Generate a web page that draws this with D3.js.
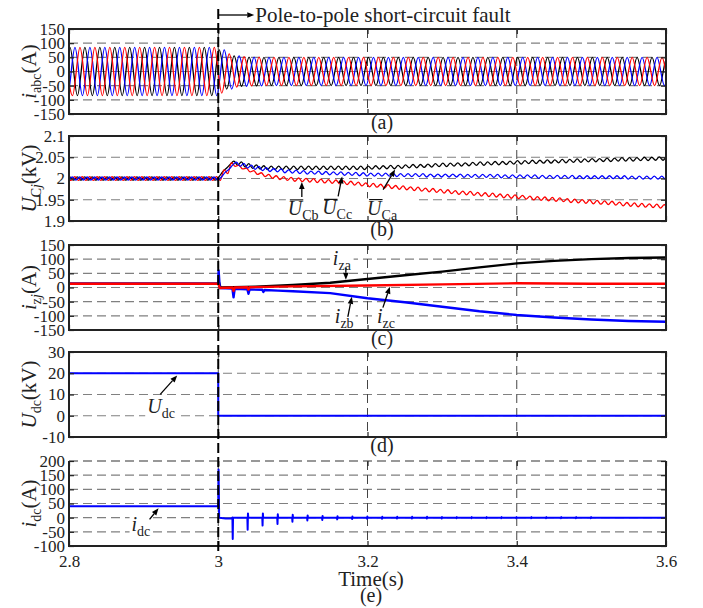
<!DOCTYPE html>
<html>
<head>
<meta charset="utf-8">
<script src="https://cdn.jsdelivr.net/npm/d3@7"></script>
<style>
  body { margin: 0; background: #fff; }
  svg { display: block; }
  text { font-family: "Liberation Serif", "Times New Roman", serif; fill: #222; }
</style>
</head>
<body>
<svg id="chart" width="703" height="608"></svg>
<script>
// ---------- time axis ----------
const timeDomain = [2.8, 3.6];
const timeTicks = [2.8, 3.0, 3.2, 3.4, 3.6];
const timeTickLabels = ["2.8", "3", "3.2", "3.4", "3.6"];
const faultTime = 3.0;

// ---------- (a) AC phase currents i_abc (A) ----------
// crest magnitude of every half cycle (0.01 s each, from 2.8 s)
const iabcHalfCycleAmp = [
  85, 85, 85, 85, 85, 85, 85, 85, 85, 85,
  85, 85, 85, 85, 85, 85, 85, 85, 85, 85,
  76, 62, 55, 52, 51, 51, 50, 50, 50, 50,
  50, 50, 50, 50, 50, 50, 50, 50, 50, 50,
  50, 50, 50, 50, 50, 50, 50, 50, 50, 50,
  50, 50, 50, 50, 50, 50, 50, 50, 50, 50,
  50, 50, 50, 50, 50, 50, 50, 50, 50, 50,
  50, 50, 50, 50, 50, 50, 50, 50, 50, 50
];
const iabcHalfCycle = 0.01;
const iabcFirstCrest = [2.8013, 2.8080, 2.8147];   // phase a, b, c
const iabcColors = ["#000000", "#0000ff", "#ff0000"];

// ---------- (b) capacitor voltages U_Cj (kV) ----------
// mean level every 0.01 s from 2.8 s to 3.6 s
const ucMeanA = [
  2.000, 2.000, 2.000, 2.000, 2.000, 2.000, 2.000, 2.000, 2.000, 2.000,
  2.000, 2.000, 2.000, 2.000, 2.000, 2.000, 2.000, 2.000, 2.000, 2.000,
  2.000, 2.020, 2.037, 2.035, 2.031, 2.028, 2.026, 2.025, 2.025, 2.025,
  2.025, 2.025, 2.025, 2.025, 2.025, 2.025, 2.025, 2.025, 2.025, 2.025,
  2.025, 2.026, 2.026, 2.027, 2.027, 2.028, 2.029, 2.029, 2.030, 2.031,
  2.032, 2.032, 2.033, 2.033, 2.034, 2.035, 2.035, 2.036, 2.036, 2.037,
  2.038, 2.038, 2.039, 2.039, 2.040, 2.040, 2.041, 2.041, 2.042, 2.042,
  2.043, 2.043, 2.044, 2.044, 2.045, 2.045, 2.045, 2.046, 2.046, 2.047,
  2.047
];
const ucMeanB = [
  2.000, 2.000, 2.000, 2.000, 2.000, 2.000, 2.000, 2.000, 2.000, 2.000,
  2.000, 2.000, 2.000, 2.000, 2.000, 2.000, 2.000, 2.000, 2.000, 2.000,
  2.000, 2.018, 2.035, 2.032, 2.028, 2.025, 2.022, 2.020, 2.019, 2.017,
  2.016, 2.015, 2.014, 2.014, 2.013, 2.012, 2.012, 2.011, 2.011, 2.010,
  2.009, 2.009, 2.009, 2.009, 2.008, 2.008, 2.008, 2.008, 2.007, 2.007,
  2.007, 2.007, 2.007, 2.006, 2.006, 2.006, 2.006, 2.006, 2.005, 2.005,
  2.005, 2.005, 2.005, 2.004, 2.004, 2.004, 2.004, 2.004, 2.003, 2.003,
  2.003, 2.003, 2.003, 2.003, 2.003, 2.002, 2.002, 2.002, 2.002, 2.002,
  2.002
];
const ucMeanC = [
  2.000, 2.000, 2.000, 2.000, 2.000, 2.000, 2.000, 2.000, 2.000, 2.000,
  2.000, 2.000, 2.000, 2.000, 2.000, 2.000, 2.000, 2.000, 2.000, 2.000,
  2.000, 2.016, 2.033, 2.027, 2.020, 2.014, 2.009, 2.005, 2.002, 2.000,
  1.998, 1.997, 1.996, 1.995, 1.994, 1.993, 1.992, 1.990, 1.989, 1.987,
  1.985, 1.984, 1.982, 1.981, 1.979, 1.978, 1.976, 1.975, 1.973, 1.972,
  1.970, 1.969, 1.967, 1.966, 1.965, 1.963, 1.962, 1.961, 1.959, 1.958,
  1.957, 1.956, 1.954, 1.953, 1.952, 1.951, 1.950, 1.948, 1.947, 1.946,
  1.945, 1.944, 1.943, 1.942, 1.940, 1.939, 1.938, 1.937, 1.936, 1.935,
  1.934
];
const ucMeanStep = 0.01;
const ucRipple = [0.004, 0.0035, 0.0045];          // half peak-to-peak, a / b / c
const ucRippleHalfPeriod = 0.005;
const ucFirstCrest = [2.801, 2.8043, 2.8077];

// ---------- (c) circulating currents i_zj (A) ----------
const izaTime = [2.8, 3.0, 3.0008, 3.003, 3.02, 3.05, 3.1, 3.15, 3.2, 3.25, 3.3, 3.35, 3.4, 3.45, 3.5, 3.55, 3.6];
const izaValue = [13, 13, 20, 0, 1, 3, 9, 17, 30, 43, 56, 71, 85, 94, 100, 104, 106];
const izbTime = [2.8, 3.0, 3.0005, 3.002, 3.019, 3.0205, 3.022, 3.039, 3.0405, 3.042, 3.059, 3.0605, 3.062,
                 3.08, 3.1, 3.15, 3.2, 3.25, 3.3, 3.35, 3.4, 3.45, 3.5, 3.55, 3.6];
const izbValue = [13, 13, 60, -2, -4, -35, -5, -6, -22, -7, -8, -16, -9,
                  -11, -13, -20, -38, -52, -68, -84, -97, -106, -113, -118, -121];
const izcTime = [2.8, 3.0, 3.0005, 3.002, 3.019, 3.0205, 3.022, 3.039, 3.0405, 3.042, 3.1, 3.2, 3.3, 3.4, 3.5, 3.6];
const izcValue = [13, 13, 10, -2, 0, -12, 0, 1, -8, 1, 4, 7, 11, 15, 13, 13];

// ---------- (d) DC voltage U_dc (kV) ----------
const udcTime = [2.8, 3.0, 3.0, 3.6];
const udcValue = [20, 20, 0, 0];

// ---------- (e) DC current i_dc (A) ----------
const idcTime = [2.8, 3.0, 3.0004, 3.0012, 3.01, 3.018];
const idcValue = [40, 40, 170, 0, -3, -2];
const idcSpikeTime = [3.019, 3.039, 3.059, 3.079, 3.099, 3.119, 3.139, 3.159, 3.179, 3.199,
                      3.219, 3.239, 3.259, 3.279, 3.299, 3.319, 3.339, 3.359, 3.379, 3.399,
                      3.419, 3.439, 3.459, 3.479, 3.499];
const idcSpikeLow = [-75, -43, -28, -22, -14, -10, -8, -6, -5, -4, -4, -3, -3, -3, -3, -2, -2, -2, -2, -2, -2, -2, -2, -2, -2];
const idcSpikeHigh = [0, 15, 15, 12, 10, 8, 6, 5, 4, 4, 3, 3, 3, 3, 2, 2, 2, 2, 2, 2, 2, 2, 2, 2, 2];
const idcEndTime = 3.6;

// ---------- y-axis ticks ----------
const ticksA = [-150, -100, -50, 0, 50, 100, 150];
const ticksB = [1.9, 1.95, 2, 2.05, 2.1];
const ticksBLabels = ["1.9", "1.95", "2", "2.05", "2.1"];
const ticksC = [-150, -100, -50, 0, 50, 100, 150];
const ticksD = [-10, 0, 10, 20, 30];
const ticksE = [-100, -50, 0, 50, 100, 150, 200];

// ================= drawing =================
const FONT = '"Liberation Serif", "Times New Roman", serif';
const svg = d3.select("#chart");
const plotLeft = 69, plotRight = 666, panelHeight = 85;
const panelTops = [29, 136, 245, 352, 461];
const x = d3.scaleLinear().domain(timeDomain).range([plotLeft, plotRight]);

// build oscillation crest/trough points from read crest magnitudes
function oscillation(firstCrest, halfPeriod, level, amp) {
  const pts = [];
  for (let n = -2; n <= Math.ceil((timeDomain[1] - timeDomain[0]) / halfPeriod) + 2; n++) {
    const t = firstCrest + n * halfPeriod;
    const sign = (((n % 2) + 2) % 2) === 0 ? 1 : -1;
    pts.push([t, level(t) + sign * amp(t)]);
  }
  return pts;
}
function halfCycleIndex(t, step, len) {
  return Math.max(0, Math.min(len - 1, Math.floor((t - timeDomain[0]) / step + 1e-9)));
}
function meanIndex(t, step, len) {
  return Math.max(0, Math.min(len - 1, Math.round((t - timeDomain[0]) / step)));
}
const zip = (ts, vs) => ts.map((t, i) => [t, vs[i]]);

const iabcSeries = iabcFirstCrest.map((t0, k) => ({
  color: iabcColors[k], width: 1.3,
  points: oscillation(t0, iabcHalfCycle, () => 0,
    t => iabcHalfCycleAmp[halfCycleIndex(t, iabcHalfCycle, iabcHalfCycleAmp.length)]),
  curve: d3.curveMonotoneX
}));

const ucMeans = [ucMeanA, ucMeanB, ucMeanC];
const ucSeries = [0, 2, 1].map(k => ({
  color: iabcColors[k], width: 1.3,
  points: oscillation(ucFirstCrest[k], ucRippleHalfPeriod,
    t => ucMeans[k][meanIndex(t, ucMeanStep, ucMeans[k].length)], () => ucRipple[k]),
  curve: d3.curveMonotoneX
}));

const izSeries = [
  { color: "#000000", width: 2.4, points: zip(izaTime, izaValue), curve: d3.curveLinear },
  { color: "#0000ff", width: 2.4, points: zip(izbTime, izbValue), curve: d3.curveLinear },
  { color: "#ff0000", width: 2.4, points: zip(izcTime, izcValue), curve: d3.curveLinear }
];

const udcSeries = [{ color: "#0000ff", width: 2, points: zip(udcTime, udcValue), curve: d3.curveLinear }];

const idcPoints = zip(idcTime, idcValue);
idcSpikeTime.forEach((t, i) => {
  idcPoints.push([t, 0], [t + 0.0004, idcSpikeLow[i]], [t + 0.0008, idcSpikeHigh[i]], [t + 0.0012, 0]);
});
idcPoints.push([idcEndTime, 0]);
const idcSeries = [{ color: "#0000ff", width: 2, points: idcPoints, curve: d3.curveLinear }];

const panels = [
  { id: "a", domain: [-150, 150], ticks: ticksA, labels: ticksA.map(String), series: iabcSeries,
    ylabel: [{ t: "i", italic: true }, { t: "abc", sub: true }, { t: "(A)" }], caption: "(a)" },
  { id: "b", domain: [1.9, 2.1], ticks: ticksB, labels: ticksBLabels, series: ucSeries,
    ylabel: [{ t: "U", italic: true }, { t: "C", sub: true }, { t: "j", sub: true, italic: true }, { t: "(kV)" }], caption: "(b)",
    notes: [
      { tip: [3.112, 1.992], tail: [0, 15], text: [-14, 33], sym: "U", sub: "Cb", bar: true },
      { tip: [3.166, 2.005], tail: [-4, 20], text: [-20, 38], sym: "U", sub: "Cc", bar: true },
      { tip: [3.237, 2.021], tail: [-12, 20], text: [-28, 45], sym: "U", sub: "Ca", bar: true }
    ], joinBoxes: true },
  { id: "c", domain: [-150, 150], ticks: ticksC, labels: ticksC.map(String), series: izSeries,
    ylabel: [{ t: "i", italic: true }, { t: "z", sub: true }, { t: "j", sub: true, italic: true }, { t: "(A)" }], caption: "(c)",
    notes: [
      { tip: [3.171, 27], tail: [0, -12], text: [-13, -15], sym: "i", sub: "za" },
      { tip: [3.179, -33], tail: [-4, 20], text: [-17, 26], sym: "i", sub: "zb" },
      { tip: [3.230, 3], tail: [-7, 21], text: [-13, 36], sym: "i", sub: "zc" }
    ] },
  { id: "d", domain: [-10, 30], ticks: ticksD, labels: ticksD.map(String), series: udcSeries,
    ylabel: [{ t: "U", italic: true }, { t: "dc", sub: true }, { t: "(kV)" }], caption: "(d)",
    notes: [{ tip: [2.945, 19], tail: [-17, 19], text: [-30, 38], sym: "U", sub: "dc" }] },
  { id: "e", domain: [-100, 200], ticks: ticksE, labels: ticksE.map(String), series: idcSeries,
    ylabel: [{ t: "i", italic: true }, { t: "dc", sub: true }, { t: "(A)" }], caption: "(e)",
    notes: [{ tip: [2.92, 33], tail: [-9, 11], text: [-27, 23], sym: "i", sub: "dc" }],
    dashedTop: true, xLabels: true }
];

function arrow(g, x1, y1, x2, y2) {
  const a = Math.atan2(y2 - y1, x2 - x1), head = 7, half = 2.8;
  const bx = x2 - head * Math.cos(a), by = y2 - head * Math.sin(a);
  g.append("line").attr("x1", x1).attr("y1", y1).attr("x2", bx).attr("y2", by)
    .attr("stroke", "#000").attr("stroke-width", 1.3);
  g.append("path")
    .attr("d", `M${x2},${y2}L${bx + half * Math.sin(a)},${by - half * Math.cos(a)}L${bx - half * Math.sin(a)},${by + half * Math.cos(a)}Z`)
    .attr("fill", "#000");
}

function richText(g, parts, size, subSize) {
  const t = g.append("text").style("font-size", size + "px").style("font-family", FONT);
  let shifted = false;
  parts.forEach(p => {
    const ts = t.append("tspan").text(p.t);
    if (p.italic) ts.style("font-style", "italic");
    if (p.sub) {
      ts.style("font-size", subSize + "px");
      if (!shifted) { ts.attr("dy", size * 0.25); shifted = true; }
    } else if (shifted) {
      ts.attr("dy", -size * 0.25); shifted = false;
    }
  });
  return t;
}

panels.forEach((p, i) => {
  const top = panelTops[i], bottom = top + panelHeight;
  const y = d3.scaleLinear().domain(p.domain).range([bottom, top]);
  const g = svg.append("g").attr("class", "panel-" + p.id);

  svg.append("clipPath").attr("id", "clip-" + p.id).append("rect")
    .attr("x", plotLeft).attr("y", top).attr("width", plotRight - plotLeft).attr("height", panelHeight);

  // grid
  const grid = g.append("g");
  grid.selectAll("line.h").data(p.ticks.filter(v => v !== p.domain[0] && v !== p.domain[1]))
    .join("line").attr("class", "h")
    .attr("x1", plotLeft).attr("x2", plotRight).attr("y1", d => y(d)).attr("y2", d => y(d))
    .attr("stroke", "#808080").attr("stroke-width", 1.2).attr("stroke-dasharray", "9,5");
  grid.selectAll("line.v").data(timeTicks.filter(t => t > timeDomain[0] && t < timeDomain[1]))
    .join("line").attr("class", "v")
    .attr("x1", d => x(d)).attr("x2", d => x(d)).attr("y1", top).attr("y2", bottom)
    .attr("stroke", "#444").attr("stroke-width", 1).attr("stroke-dasharray", "9,5");

  // layers: label backing, curves, frame, annotations
  const boxLayer = g.append("g");
  const plotLayer = g.append("g").attr("clip-path", `url(#clip-${p.id})`);
  const frameLayer = g.append("g");
  const noteLayer = g.append("g");

  // curves
  p.series.forEach(s => {
    const line = d3.line().x(d => x(d[0])).y(d => y(d[1])).curve(s.curve);
    plotLayer.append("path").datum(s.points).attr("d", line)
      .attr("fill", "none").attr("stroke", s.color).attr("stroke-width", s.width)
      .attr("stroke-linejoin", "round");
  });

  // frame
  if (p.dashedTop) {
    frameLayer.append("path")
      .attr("d", `M${plotLeft},${top}V${bottom}H${plotRight}V${top}`)
      .attr("fill", "none").attr("stroke", "#222").attr("stroke-width", 2);
    frameLayer.append("line").attr("x1", plotLeft).attr("x2", plotRight).attr("y1", top).attr("y2", top)
      .attr("stroke", "#777").attr("stroke-width", 1.6).attr("stroke-dasharray", "9,5");
  } else {
    frameLayer.append("rect").attr("x", plotLeft).attr("y", top)
      .attr("width", plotRight - plotLeft).attr("height", panelHeight)
      .attr("fill", "none").attr("stroke", "#222").attr("stroke-width", 2);
  }

  // axes (inward ticks)
  const styleAxis = sel => {
    sel.attr("font-family", null).attr("font-size", null).style("color", "#222");
    sel.select(".domain").remove();
    sel.selectAll(".tick line").attr("stroke-width", 1.2);
    sel.selectAll("text").style("font-size", "17px").style("font-family", FONT);
  };
  frameLayer.append("g").attr("transform", `translate(${plotLeft},0)`)
    .call(d3.axisLeft(y).tickValues(p.ticks).tickFormat((d, k) => p.labels[k]).tickSize(-5).tickPadding(4))
    .call(styleAxis);
  frameLayer.append("g").attr("transform", `translate(${plotRight},0)`)
    .call(d3.axisRight(y).tickValues(p.ticks).tickFormat("").tickSize(-5))
    .call(styleAxis);
  frameLayer.append("g").attr("transform", `translate(0,${top})`)
    .call(d3.axisTop(x).tickValues(timeTicks).tickFormat("").tickSize(-5))
    .call(styleAxis);
  frameLayer.append("g").attr("transform", `translate(0,${bottom})`)
    .call(d3.axisBottom(x).tickValues(timeTicks)
      .tickFormat((d, k) => p.xLabels ? timeTickLabels[k] : "").tickSize(-5).tickPadding(9))
    .call(styleAxis);

  // y label
  const yl = richText(g, p.ylabel, 21, 14);
  yl.attr("text-anchor", "middle")
    .attr("transform", `translate(36,${(top + bottom) / 2}) rotate(-90)`);

  // caption
  if (p.xLabels) {
    g.append("text").attr("x", 371).attr("y", bottom + 40).attr("text-anchor", "middle")
      .style("font-size", "21px").text("Time(s)");
    g.append("text").attr("x", 371).attr("y", bottom + 56).attr("text-anchor", "middle")
      .style("font-size", "20px").text(p.caption);
  } else {
    g.append("text").attr("x", 382).attr("y", bottom + 15).attr("text-anchor", "middle")
      .style("font-size", "20px").text(p.caption);
  }

  // annotations
  const boxes = [];
  (p.notes || []).forEach(n => {
    const tx = x(n.tip[0]), ty = y(n.tip[1]);
    arrow(noteLayer, tx + n.tail[0], ty + n.tail[1], tx, ty);
    const lg = noteLayer.append("g").attr("transform", `translate(${tx + n.text[0]},${ty + n.text[1]})`);
    const t = richText(lg, [{ t: n.sym, italic: true }, { t: n.sub, sub: true }], 20, 14);
    if (n.bar) {
      const w = t.select("tspan").node().getComputedTextLength();
      lg.append("line").attr("x1", 2).attr("x2", w + 1).attr("y1", -15).attr("y2", -15)
        .attr("stroke", "#111").attr("stroke-width", 1.2);
    }
    const bb = lg.node().getBBox();
    boxes.push({ x0: tx + n.text[0] + bb.x - 2, y0: ty + n.text[1] + bb.y,
                 x1: tx + n.text[0] + bb.x + bb.width + 2, y1: ty + n.text[1] + bb.y + bb.height });
  });
  if (boxes.length) {
    const list = p.joinBoxes
      ? [{ x0: d3.min(boxes, b => b.x0), y0: d3.min(boxes, b => b.y0),
           x1: d3.max(boxes, b => b.x1) + 16, y1: d3.max(boxes, b => b.y1) }]
      : boxes;
    boxLayer.selectAll("rect").data(list).join("rect")
      .attr("x", b => b.x0).attr("y", b => b.y0 + 2)
      .attr("width", b => b.x1 - b.x0).attr("height", b => b.y1 - b.y0 - 4)
      .attr("fill", "#fff");
  }
});

// fault instant marker spanning all panels
const fx = x(faultTime);
svg.append("line").attr("x1", fx).attr("x2", fx).attr("y1", 9).attr("y2", 552)
  .attr("stroke", "#000").attr("stroke-width", 2).attr("stroke-dasharray", "10,4");
arrow(svg.append("g"), fx, 15, fx + 36, 15);
svg.append("text").attr("x", fx + 37).attr("y", 22).style("font-size", "21px")
  .text("Pole-to-pole short-circuit fault");
</script>
</body>
</html>
